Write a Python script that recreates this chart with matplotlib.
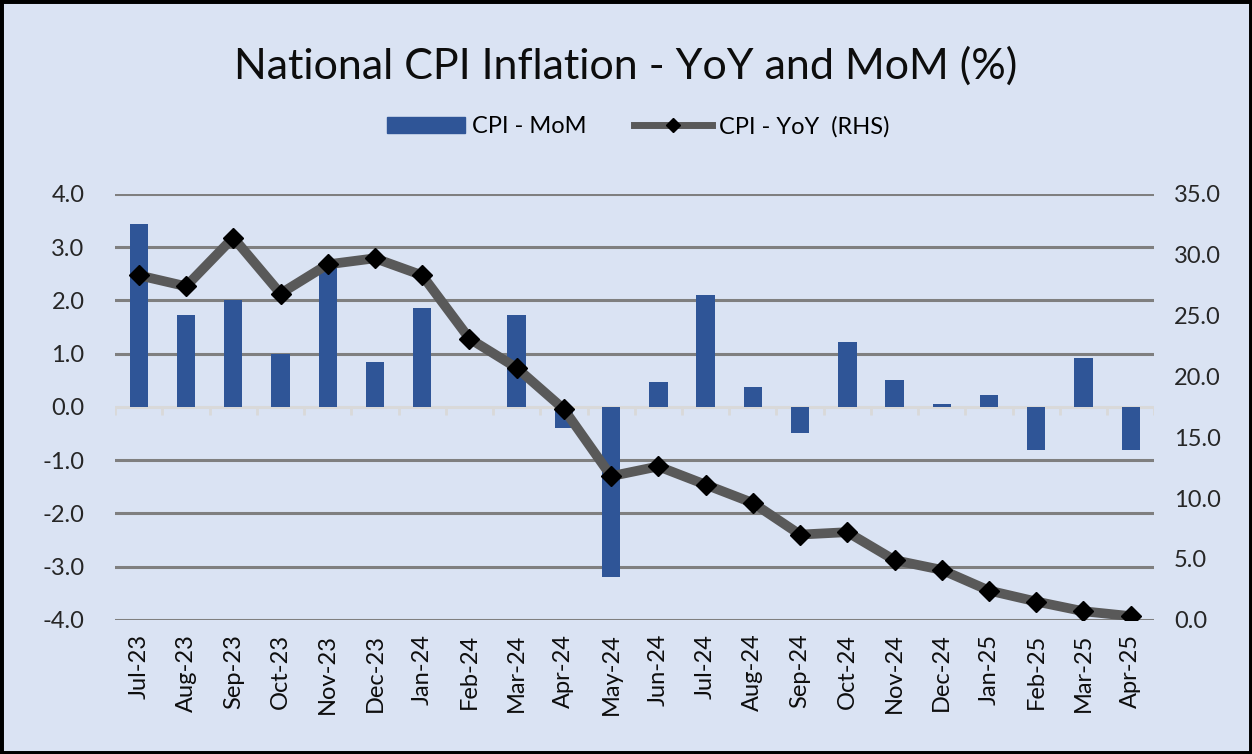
import matplotlib
matplotlib.use("Agg")
import matplotlib.pyplot as plt
import numpy as np
from matplotlib.lines import Line2D
from matplotlib.patches import Patch, Rectangle

months = ["Jul-23", "Aug-23", "Sep-23", "Oct-23", "Nov-23", "Dec-23", "Jan-24", "Feb-24",
          "Mar-24", "Apr-24", "May-24", "Jun-24", "Jul-24", "Aug-24", "Sep-24", "Oct-24",
          "Nov-24", "Dec-24", "Jan-25", "Feb-25", "Mar-25", "Apr-25"]
cpi_mom = [3.44, 1.72, 2.0, 1.0, 2.63, 0.84, 1.85, 0.0, 1.72, -0.4, -3.19,
           0.47, 2.1, 0.37, -0.5, 1.22, 0.5, 0.06, 0.22, -0.81, 0.91, -0.81]
cpi_yoy = [28.3, 27.4, 31.4, 26.8, 29.2, 29.7, 28.3, 23.1, 20.7, 17.3, 11.8,
           12.6, 11.1, 9.6, 7.0, 7.2, 4.9, 4.1, 2.4, 1.5, 0.7, 0.3]
left_ticks = [-4, -3, -2, -1, 0, 1, 2, 3, 4]
right_ticks = [0, 5, 10, 15, 20, 25, 30, 35]

BG = "#DAE3F3"
BAR = "#2F5597"
LINE = "#595959"
FONT = ["Lato", "DejaVu Sans"]
plt.rcParams['font.family'] = FONT

fig = plt.figure(figsize=(12.52, 7.54), dpi=100, facecolor=BG)
ax = fig.add_axes([0.092, 0.178, 0.830, 0.565])
ax.set_facecolor(BG)
x = np.arange(len(months))

ax.set_ylim(-4, 4)
ax.set_xlim(-0.5, len(months) - 0.5)
ax.set_yticks(left_ticks)
ax.set_yticklabels([f"{v:.1f}" for v in left_ticks], fontsize=17, color="#262626")
for v in left_ticks:
    if v != 0:
        ax.axhline(v, color="#7F7F7F", lw=2.2, zorder=1)
ax.axhline(0, color="#D9D9D9", lw=2.2, zorder=1)
ax.vlines(np.arange(len(months) + 1) - 0.5, -0.15, 0, color="#D9D9D9", lw=2, zorder=1)

ax.bar(x, cpi_mom, width=0.39, color=BAR, zorder=2)

ax.set_xticks(x)
ax.set_xticklabels(months, rotation=90, fontsize=17, color="#0D0D0D")
ax.tick_params(axis="x", length=0, pad=10)
ax.tick_params(axis="y", length=0, pad=22)
for s in ax.spines.values():
    s.set_visible(False)

ax2 = ax.twinx()
ax2.set_ylim(0, 35)
ax2.set_yticks(right_ticks)
ax2.set_yticklabels([f"{v:.1f}" for v in right_ticks], fontsize=17, color="#262626")
ax2.tick_params(axis="y", length=0, pad=14)
for s in ax2.spines.values():
    s.set_visible(False)
ax2.plot(x, cpi_yoy, color=LINE, lw=7, marker="D", markersize=10,
         markerfacecolor="black", markeredgecolor="black", zorder=3, solid_capstyle="round")

fig.text(0.50, 0.912, "National CPI Inflation - YoY and MoM (%)", ha="center", va="center",
         fontsize=31, color="#0D0D0D")

handles = [Patch(facecolor=BAR, edgecolor=BAR),
           Line2D([0], [0], color=LINE, lw=5, marker="D", markersize=7,
                  markerfacecolor="black", markeredgecolor="black")]
fig.legend(handles, ["CPI - MoM", "CPI - YoY  (RHS)"], loc="center",
           bbox_to_anchor=(0.51, 0.832), ncol=2, frameon=False, fontsize=17,
           handlelength=3.3, columnspacing=2.0, handletextpad=0.3)

fig.patches.append(Rectangle((0, 0), 1, 1, transform=fig.transFigure, fill=False,
                             edgecolor="black", lw=5))

fig.savefig("out.png", dpi=100, facecolor=BG)
